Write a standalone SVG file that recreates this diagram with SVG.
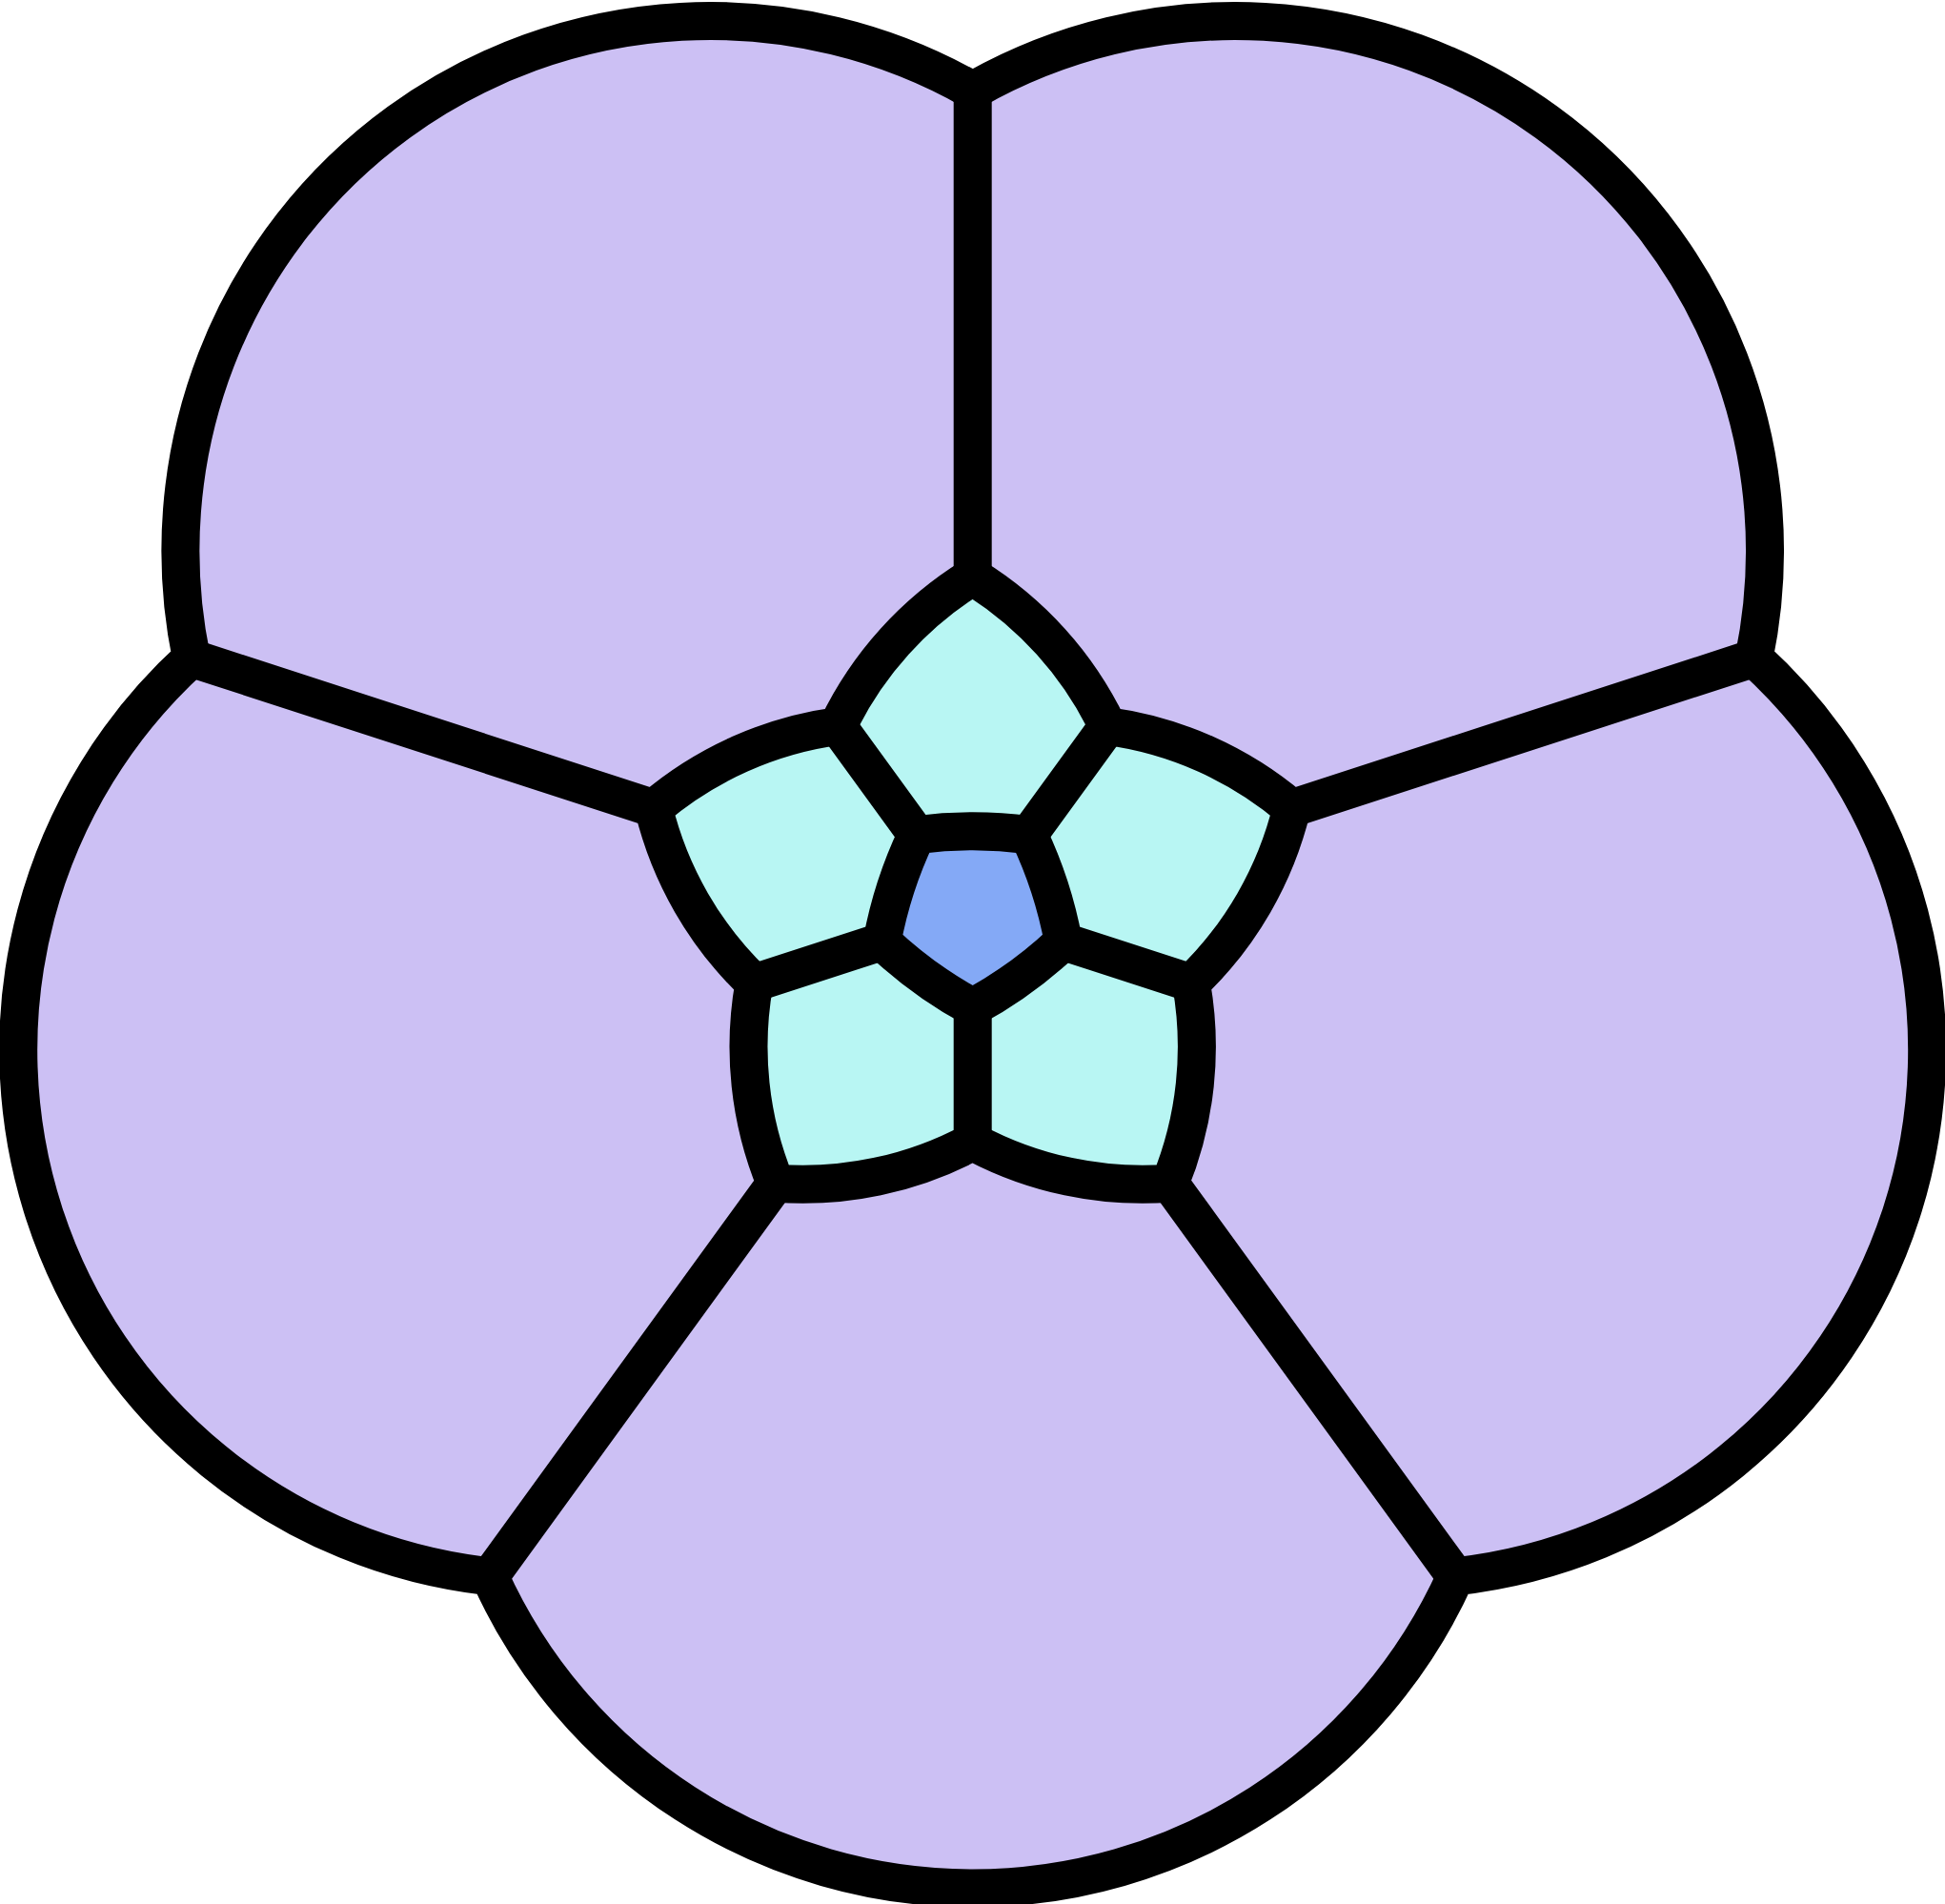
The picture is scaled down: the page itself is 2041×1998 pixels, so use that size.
<svg xmlns="http://www.w3.org/2000/svg" width="2041" height="1998" viewBox="0 0 2041 1998">
<style>
.outer{fill:#CCC0F4;stroke:none}
.ring{fill:#B8F6F3;stroke:none}
.core{fill:#84A9F6;stroke:none}
.edge{fill:none;stroke:#000;stroke-width:40;stroke-linecap:round;stroke-linejoin:round}
</style>
<rect width="2041" height="1998" fill="#FFFFFF"/>
<g id="outer-petals">
<path id="petal-top-right" class="outer" d="M1020.70,95.00 A556 556 0 0 1 1840.51,690.63 L1355.47,848.23 A377 377 0 0 0 1162.36,762.03 A377 377 0 0 0 1020.70,605.00 Z"/>
<path id="petal-right" class="outer" d="M1840.51,690.63 A556 556 0 0 1 1527.37,1654.37 L1227.60,1241.77 A377 377 0 0 0 1249.91,1031.47 A377 377 0 0 0 1355.47,848.23 Z"/>
<path id="petal-bottom" class="outer" d="M1527.37,1654.37 A556 556 0 0 1 514.03,1654.37 L813.80,1241.77 A377 377 0 0 0 1020.70,1198.00 A377 377 0 0 0 1227.60,1241.77 Z"/>
<path id="petal-left" class="outer" d="M514.03,1654.37 A556 556 0 0 1 200.89,690.63 L685.93,848.23 A377 377 0 0 0 791.49,1031.47 A377 377 0 0 0 813.80,1241.77 Z"/>
<path id="petal-top-left" class="outer" d="M200.89,690.63 A556 556 0 0 1 1020.70,95.00 L1020.70,605.00 A377 377 0 0 0 879.04,762.03 A377 377 0 0 0 685.93,848.23 Z"/>
</g>
<g id="inner-petals">
<path id="ring-top" class="ring" d="M879.04,762.03 A377 377 0 0 1 1020.70,605.00 A377 377 0 0 1 1162.36,762.03 L1079.48,876.10 A450 450 0 0 0 961.92,876.10 Z"/>
<path id="ring-right" class="ring" d="M1162.36,762.03 A377 377 0 0 1 1355.47,848.23 A377 377 0 0 1 1249.91,1031.47 L1115.81,987.90 A450 450 0 0 0 1079.48,876.10 Z"/>
<path id="ring-bottom-right" class="ring" d="M1249.91,1031.47 A377 377 0 0 1 1227.60,1241.77 A377 377 0 0 1 1020.70,1198.00 L1020.70,1057.00 A450 450 0 0 0 1115.81,987.90 Z"/>
<path id="ring-bottom-left" class="ring" d="M1020.70,1198.00 A377 377 0 0 1 813.80,1241.77 A377 377 0 0 1 791.49,1031.47 L925.59,987.90 A450 450 0 0 0 1020.70,1057.00 Z"/>
<path id="ring-left" class="ring" d="M791.49,1031.47 A377 377 0 0 1 685.93,848.23 A377 377 0 0 1 879.04,762.03 L961.92,876.10 A450 450 0 0 0 925.59,987.90 Z"/>
</g>
<g id="center">
<path id="core" class="core" d="M961.92,876.10 A450 450 0 0 1 1079.48,876.10 A450 450 0 0 1 1115.81,987.90 A450 450 0 0 1 1020.70,1057.00 A450 450 0 0 1 925.59,987.90 A450 450 0 0 1 961.92,876.10 Z"/>
</g>
<g id="lines">
<path class="edge" d="M1020.70,95.00 A556 556 0 0 1 1840.51,690.63 A556 556 0 0 1 1527.37,1654.37 A556 556 0 0 1 514.03,1654.37 A556 556 0 0 1 200.89,690.63 A556 556 0 0 1 1020.70,95.00 Z"/>
<path class="edge" d="M879.04,762.03 A377 377 0 0 1 1020.70,605.00 A377 377 0 0 1 1162.36,762.03 A377 377 0 0 1 1355.47,848.23 A377 377 0 0 1 1249.91,1031.47 A377 377 0 0 1 1227.60,1241.77 A377 377 0 0 1 1020.70,1198.00 A377 377 0 0 1 813.80,1241.77 A377 377 0 0 1 791.49,1031.47 A377 377 0 0 1 685.93,848.23 A377 377 0 0 1 879.04,762.03 Z"/>
<path class="edge" d="M961.92,876.10 A450 450 0 0 1 1079.48,876.10 A450 450 0 0 1 1115.81,987.90 A450 450 0 0 1 1020.70,1057.00 A450 450 0 0 1 925.59,987.90 A450 450 0 0 1 961.92,876.10 Z"/>
<path class="edge" d="M1020.70,605.00 L1020.70,95.00 M1355.47,848.23 L1840.51,690.63 M1227.60,1241.77 L1527.37,1654.37 M813.80,1241.77 L514.03,1654.37 M685.93,848.23 L200.89,690.63"/>
<path class="edge" d="M961.92,876.10 L879.04,762.03 M1079.48,876.10 L1162.36,762.03 M1115.81,987.90 L1249.91,1031.47 M1020.70,1057.00 L1020.70,1198.00 M925.59,987.90 L791.49,1031.47"/>
</g>
</svg>
